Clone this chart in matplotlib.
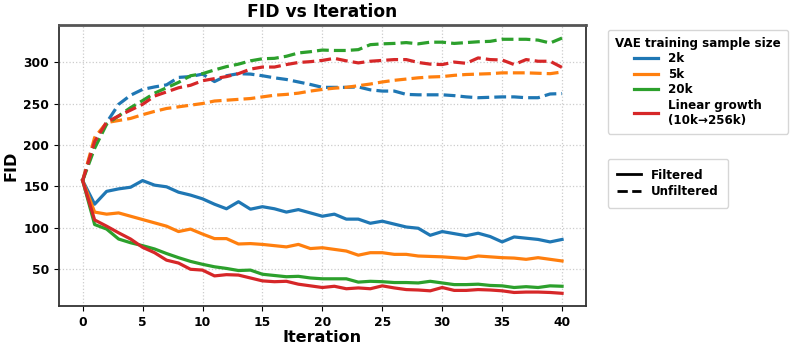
import numpy as np
import matplotlib
matplotlib.use("Agg")
import matplotlib.pyplot as plt
from matplotlib.lines import Line2D

iterations = np.arange(41)

# filtered FID per iteration
fid_2k = [157, 128.5, 144, 147, 149, 157, 151.5, 149.5, 143, 139.5, 135, 128.5, 123, 131.5, 122.5,
          125.5, 123, 119, 122, 118, 114, 116.5, 110.5, 110.5, 105.5, 108, 104.5, 101, 99.5, 91,
          95.5, 93, 90.5, 93.5, 89.5, 83, 89, 87.5, 86, 83, 86]
fid_5k = [157, 119, 116.5, 118, 114, 110, 106, 102, 95.5, 98.5, 92.5, 87, 87, 80.5, 81, 80,
          78.5, 77, 80, 75, 76, 74, 72, 67, 70, 70, 68, 68, 66, 65.5, 65, 64, 63, 66, 65, 64,
          63.5, 62, 64, 62, 60]
fid_20k = [157, 104, 98.5, 86.5, 82, 78.5, 74.5, 69, 64, 59.5, 56, 53, 51, 48.5, 49, 44, 42.5,
           41, 41.5, 39.5, 38.5, 38.5, 38.5, 34.5, 35.5, 35, 34, 34, 33.5, 35.5, 33.5, 31.5, 31.5,
           32, 30.5, 30, 28, 29, 28, 30, 29.5]
fid_linear = [157, 109.5, 102, 94, 86.5, 76.5, 70, 61, 57.5, 50, 49, 42, 43.5, 43, 39.5, 36,
              35, 35.5, 32, 30, 28, 29.5, 26.5, 27.5, 26.5, 30, 27.5, 25.5, 25, 24, 28, 24.5,
              24.5, 25.5, 25, 24, 22, 22.5, 22.5, 22, 21]

# unfiltered FID per iteration
fid_2k_unf = [157, 205, 227, 249, 260, 267, 270, 272.5, 281.5, 282.5, 285.5, 276.5, 283.5, 286,
              285.5, 283.5, 281, 279, 276, 273, 269.5, 269.5, 269.5, 270, 266.5, 265, 265, 261,
              260.5, 260.5, 260.5, 259.5, 258, 257, 257.5, 258, 258, 257, 257, 261.5, 262]
fid_5k_unf = [157, 209, 227, 229.5, 232, 236.5, 240.5, 244, 246, 248, 250, 253, 254, 255, 256,
              258, 260, 261, 262.5, 265, 267, 268.5, 269.5, 271.5, 273.5, 276, 278, 279.5, 281,
              282, 282.5, 284, 285, 285.5, 286, 287, 287, 287, 286.5, 286, 288]
fid_20k_unf = [157, 196, 225, 235, 245, 253.5, 262.5, 269, 275.5, 283.5, 286, 290.5, 294.5, 297.5,
               301.5, 304, 304.5, 307, 311, 312.5, 314.5, 314, 314, 315, 321, 322, 322.5, 323.5,
               322, 324, 324, 322.5, 323.5, 324.5, 325, 327.5, 327.5, 327.5, 326.5, 323, 329]
fid_linear_unf = [157, 204, 227.5, 235, 242, 249, 259, 264, 269, 272, 277.5, 280, 282.5, 286,
                  291.5, 294, 294, 297, 299.5, 300.5, 302, 304.5, 301.5, 299, 301, 302, 303, 303,
                  299.5, 297.5, 297, 300, 298.5, 305, 303, 302.5, 297, 303, 301, 301, 293.5]

labels = ["2k", "5k", "20k", "Linear growth\n(10k\u2192256k)"]
colors = ["#1f77b4", "#ff7f0e", "#2ca02c", "#d62728"]
filtered = [fid_2k, fid_5k, fid_20k, fid_linear]
unfiltered = [fid_2k_unf, fid_5k_unf, fid_20k_unf, fid_linear_unf]

plt.rcParams["font.family"] = "DejaVu Sans"
plt.rcParams["font.weight"] = "bold"

fig, ax = plt.subplots(figsize=(7.93, 3.51), dpi=100)
fig.subplots_adjust(left=0.074, right=0.739, top=0.928, bottom=0.128)

for f, u, c in zip(filtered, unfiltered, colors):
    ax.plot(iterations, f, color=c, linewidth=2.3, linestyle="-")
    ax.plot(iterations, u, color=c, linewidth=2.3, linestyle="--")

ax.set_title("FID vs Iteration", fontsize=12.3, fontweight="bold", pad=6)
ax.set_xlabel("Iteration", fontsize=11.5, fontweight="bold", labelpad=1)
ax.set_ylabel("FID", fontsize=11.5, fontweight="bold", labelpad=3)
ax.set_xticks(np.arange(0, 41, 5))
ax.set_yticks([50, 100, 150, 200, 250, 300])
ax.tick_params(labelsize=8.8)
for lbl in ax.get_xticklabels() + ax.get_yticklabels():
    lbl.set_fontweight("bold")
ax.grid(True, linestyle=":", color="#cccccc", linewidth=0.9)
for s in ax.spines.values():
    s.set_color("#333333")
    s.set_linewidth(1.3)
ax.spines["top"].set_color("#555555")
ax.spines["top"].set_linewidth(2)

color_handles = [Line2D([0], [0], color=c, linewidth=2.3) for c in colors]
leg1 = ax.legend(color_handles, labels, title="VAE training sample size",
                 loc="upper left", bbox_to_anchor=(1.03, 1.005),
                 title_fontproperties={"weight": "bold", "size": 8.6},
                 prop={"weight": "bold", "size": 8.6}, handlelength=2.0,
                 labelspacing=0.2, borderpad=0.6)
ax.add_artist(leg1)

style_handles = [Line2D([0], [0], color="black", linewidth=2, linestyle="-"),
                 Line2D([0], [0], color="black", linewidth=2, linestyle="--")]
ax.legend(style_handles, ["Filtered", "Unfiltered"], loc="upper left",
          bbox_to_anchor=(1.03, 0.545), prop={"weight": "bold", "size": 8.6},
          handlelength=2.0, labelspacing=0.3, borderpad=0.8)

fig.savefig("out.png", dpi=100)
